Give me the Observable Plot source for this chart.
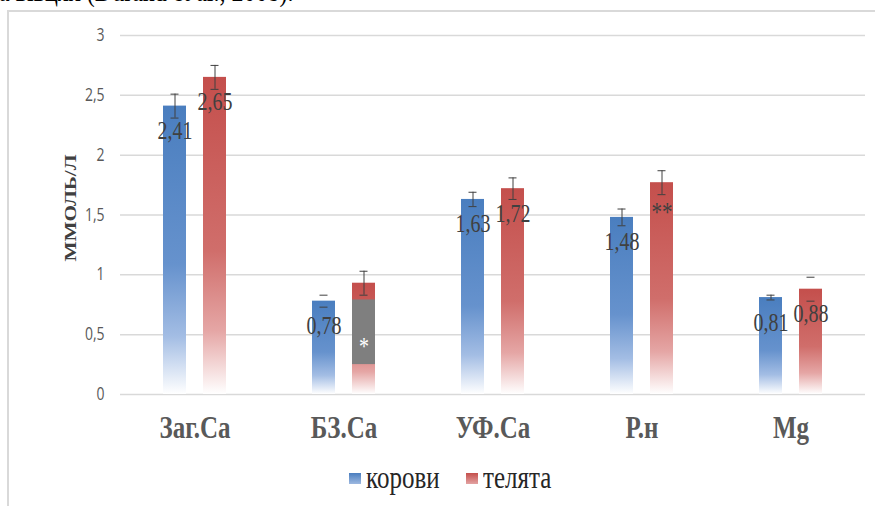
<!DOCTYPE html>
<html>
<head>
<meta charset="utf-8">
<script src="https://cdn.jsdelivr.net/npm/d3@7"></script>
<script src="https://cdn.jsdelivr.net/npm/@observablehq/plot@0.6"></script>
<style>
html, body { margin: 0; padding: 0; background: #fff; }
#wrap { position: relative; width: 875px; height: 506px; overflow: hidden; background: #fff; }
#toptext { position: absolute; left: -1px; top: -19px; font-family: "Liberation Serif", "DejaVu Serif", serif; font-size: 24px; line-height: 24px; color: #000; white-space: nowrap; transform-origin: 0 20px; transform: scaleY(1.2); }
#frame { position: absolute; left: 7px; top: 10px; width: 900px; height: 520px; border-top: 2px solid #d9d9d9; border-left: 2px solid #d9d9d9; box-sizing: border-box; }
#chart { position: absolute; left: 0; top: 0; }
#ylab { position: absolute; left: 70px; top: 208px; transform: translate(-50%, -50%) rotate(-90deg) scaleX(1.25); font-family: "Liberation Serif", "DejaVu Serif", serif; font-weight: bold; font-size: 17px; color: #404040; white-space: nowrap; line-height: 17px; }
.sw { position: absolute; width: 12px; height: 11px; }
.lt { position: absolute; font-family: "Liberation Serif", "DejaVu Serif", serif; font-size: 25px; line-height: 25px; color: #262626; white-space: nowrap; transform-origin: 0 21px; transform: scaleY(1.25); }
</style>
</head>
<body>
<div id="wrap">
  <div id="toptext">а вівцях (Durand et al., 2008).</div>
  <div id="frame"></div>
  <div id="chart"></div>
  <div id="ylab">ММОЛЬ/Л</div>
  <div id="legend"></div>
</div>
<script>
// ---- data ----
const categories = ["Заг.Са", "БЗ.Са", "УФ.Са", "Р.н", "Mg"];
const seriesNames = ["корови", "телята"];
const cowsValues = [2.41, 0.78, 1.63, 1.48, 0.81];
const calvesValues = [2.65, 0.93, 1.72, 1.77, 0.88];
const cowsErrors = [0.10, 0.05, 0.06, 0.07, 0.02];
const calvesErrors = [0.10, 0.10, 0.09, 0.10, 0.10];
const cowsLabels = ["2,41", "0,78", "1,63", "1,48", "0,81"];
const calvesLabels = ["2,65", "", "1,72", "", "0,88"];
const cowsErrorStem = [true, false, true, true, true];
const calvesErrorStem = [true, true, true, true, false];
const significance = [{cat: "Р.н", series: "телята", value: 1.77, text: "**"}];
const overlayBox = [{cat: "БЗ.Са", series: "телята", y1: 0.25, y2: 0.79, text: "*"}];
const yTicks = [0, 0.5, 1, 1.5, 2, 2.5, 3];

const rows = [];
categories.forEach((c, i) => {
  rows.push({cat: c, series: seriesNames[0], value: cowsValues[i], err: cowsErrors[i], label: cowsLabels[i], stem: cowsErrorStem[i]});
  rows.push({cat: c, series: seriesNames[1], value: calvesValues[i], err: calvesErrors[i], label: calvesLabels[i], stem: calvesErrorStem[i]});
});
rows.forEach(d => { d.lo = d.value - d.err; d.hi = d.value + d.err; });

const serif = "'Liberation Serif', 'DejaVu Serif', serif";
const fmt = d => String(d).replace(".", ",");

const chart = Plot.plot({
  width: 875,
  height: 460,
  marginLeft: 120,
  marginRight: 10,
  marginTop: 35,
  marginBottom: 66,
  style: {background: "transparent", overflow: "visible"},
  fx: {domain: categories, padding: 0, label: null},
  x: {domain: seriesNames, paddingInner: 0.415, paddingOuter: 1.025, axis: null},
  y: {domain: [0, 3], label: null},
  marks: [
    Plot.ruleY(yTicks, {stroke: "#d9d9d9", strokeWidth: 1.5}),
    Plot.axisY({ticks: yTicks, tickSize: 0, tickPadding: 16, tickFormat: fmt, fontSize: 14, fontFamily: "'Open Sans', sans-serif", fill: "#595959", label: null}),
    Plot.axisFx({anchor: "bottom", tickSize: 0, tickPadding: 21, fontSize: 25, fontWeight: "bold", fontFamily: serif, fill: "#595959", label: null}),
    Plot.barY(rows.filter(d => d.series === seriesNames[0]), {fx: "cat", x: "series", y: "value", fill: "url(#gBlue)"}),
    Plot.barY(rows.filter(d => d.series === seriesNames[1]), {fx: "cat", x: "series", y: "value", fill: "url(#gRed)"}),
    Plot.barY(overlayBox, {fx: "cat", x: "series", y1: "y1", y2: "y2", fill: "#7f7f7f"}),
    Plot.ruleX(rows.filter(d => d.stem), {fx: "cat", x: "series", y1: "lo", y2: "hi", stroke: "#404040", strokeWidth: 1}),
    Plot.tickY(rows, {fx: "cat", x: "series", y: "lo", insetLeft: 7.5, insetRight: 7.5, stroke: "#404040", strokeWidth: 1}),
    Plot.tickY(rows, {fx: "cat", x: "series", y: "hi", insetLeft: 7.5, insetRight: 7.5, stroke: "#404040", strokeWidth: 1}),
    Plot.text(rows.filter(d => d.label), {fx: "cat", x: "series", y: "value", text: "label", dy: 25, fontSize: 20, fontFamily: serif, fill: "#404040"}),
    Plot.text(significance, {fx: "cat", x: "series", y: "value", text: "text", dy: 30, fontSize: 21, fontFamily: serif, fill: "#404040", letterSpacing: "3px"}),
    Plot.text(overlayBox, {fx: "cat", x: "series", y: d => (d.y1 + d.y2) / 2, text: "text", dy: 15, fontSize: 20, fontFamily: serif, fill: "#ffffff"})
  ]
});

// gradients
const svg = d3.select(chart);
const defs = svg.insert("defs", ":first-child");
function grad(id, stops) {
  const g = defs.append("linearGradient").attr("id", id).attr("x1", 0).attr("y1", 0).attr("x2", 0).attr("y2", 1);
  stops.forEach(([o, c]) => g.append("stop").attr("offset", o).attr("stop-color", c));
}
grad("gBlue", [[0, "#4a7ebf"], [0.55, "#6692cd"], [0.8, "#a3bde4"], [1, "#ffffff"]]);
grad("gRed", [[0, "#c44f4c"], [0.55, "#d06e6b"], [0.8, "#e5a6a5"], [1, "#ffffff"]]);

// vertically stretched text, like the reference image
svg.selectAll("text").each(function() {
  const t = this.getAttribute("transform");
  if (t && t.startsWith("translate")) this.setAttribute("transform", t + " scale(1,1.25)");
});

document.getElementById("chart").appendChild(chart);

// legend
const legend = document.getElementById("legend");
const items = [
  {name: seriesNames[0], sx: 349, tx: 366, bg: "linear-gradient(to bottom, #4a7ebf, #9db8e0)"},
  {name: seriesNames[1], sx: 466, tx: 483, bg: "linear-gradient(to bottom, #c44f4c, #e3a3a2)"}
];
items.forEach(it => {
  const sw = document.createElement("div");
  sw.className = "sw"; sw.style.left = it.sx + "px"; sw.style.top = "473px"; sw.style.background = it.bg;
  legend.appendChild(sw);
  const t = document.createElement("div");
  t.className = "lt"; t.style.left = it.tx + "px"; t.style.top = "467px"; t.textContent = it.name;
  legend.appendChild(t);
});
</script>
</body>
</html>
